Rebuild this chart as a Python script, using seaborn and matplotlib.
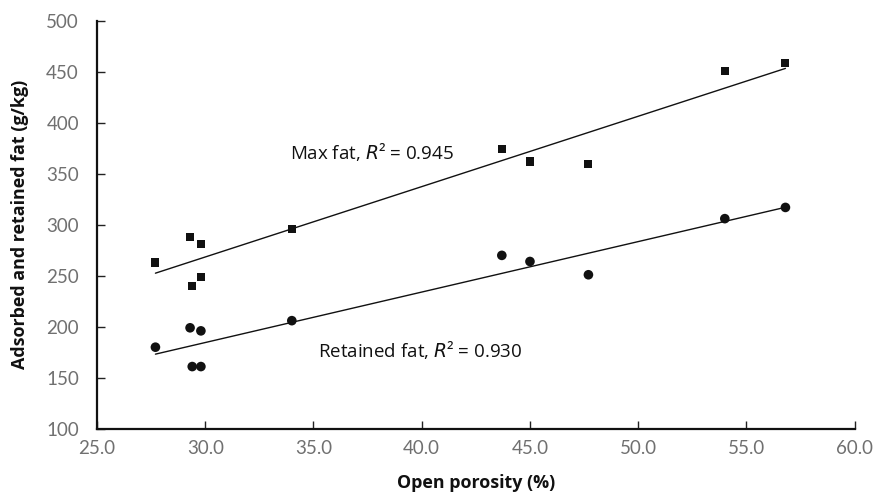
import numpy as np
import pandas as pd
import matplotlib
matplotlib.use("Agg")
import matplotlib.pyplot as plt
import seaborn as sns

porosity = [27.7, 29.3, 29.8, 29.4, 29.8, 34.0, 43.7, 45.0, 47.7, 54.0, 56.8]
max_fat = [263, 288, 281, 240, 249, 296, 374, 362, 360, 451, 459]
retained_fat = [180, 199, 196, 161, 161, 206, 270, 264, 251, 306, 317]
x_ticks = [25, 30, 35, 40, 45, 50, 55, 60]
y_ticks = [100, 150, 200, 250, 300, 350, 400, 450, 500]

sns.set_theme(style="ticks")
plt.rcParams['font.family'] = ['Open Sans', 'DejaVu Sans']

df = pd.DataFrame({"porosity": porosity, "max_fat": max_fat, "retained_fat": retained_fat})

fig = plt.figure(figsize=(8.76, 4.94), dpi=100)
ax = fig.add_axes([0.1107, 0.132, 0.865, 0.826])

sns.regplot(data=df, x="porosity", y="max_fat", ax=ax, ci=None, marker="s",
            scatter_kws=dict(s=34, color="#111111", alpha=1, edgecolors="none", zorder=3),
            line_kws=dict(color="#111111", linewidth=1.0))
sns.regplot(data=df, x="porosity", y="retained_fat", ax=ax, ci=None, marker="o",
            scatter_kws=dict(s=48, color="#111111", alpha=1, edgecolors="none", zorder=3),
            line_kws=dict(color="#111111", linewidth=1.0))

ax.set_xlim(25, 60)
ax.set_ylim(100, 500)
ax.set_xticks(x_ticks)
ax.set_xticklabels([f"{t:.1f}" for t in x_ticks], fontfamily="Lato")
ax.set_yticks(y_ticks)
ax.set_yticklabels([str(t) for t in y_ticks], fontfamily="Lato")
ax.tick_params(axis="both", direction="in", length=6, width=1, color="#222222",
               labelsize=13.5, labelcolor="#707070")
ax.tick_params(axis="y", pad=13)
ax.tick_params(axis="x", pad=8)
for s in ["top", "right"]:
    ax.spines[s].set_visible(False)
for s in ["left", "bottom"]:
    ax.spines[s].set_linewidth(1.6)
    ax.spines[s].set_color("#111111")

ax.set_xlabel("Open porosity (%)", fontsize=12.9, fontweight="bold", color="#111111", labelpad=12)
ax.set_ylabel("Adsorbed and retained fat (g/kg)", fontsize=12.9, fontweight="bold", color="#111111", labelpad=12)

ax.text(33.9, 371, r"Max fat, $R$² = 0.945", fontsize=13.5, color="#111111", va="center")
ax.text(35.2, 177, r"Retained fat, $R$² = 0.930", fontsize=13.5, color="#111111", va="center")

fig.savefig("out.png", dpi=100)
